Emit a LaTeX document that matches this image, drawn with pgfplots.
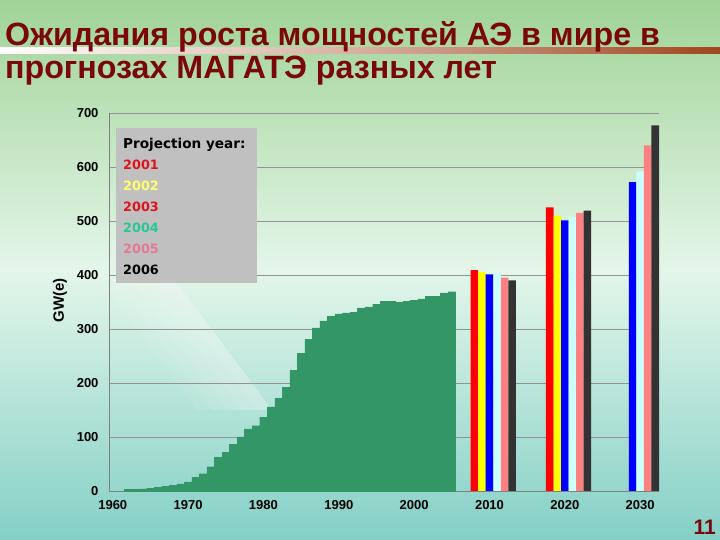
\documentclass[border=0pt]{standalone}
\usepackage{pgfplots}
\pgfplotsset{compat=1.18}
\usepackage{pgfplotstable}
\usepackage{fontspec}
\setmainfont{Liberation Sans}
\newfontfamily\legfont{DejaVu Sans}

\definecolor{titlered}{RGB}{122,8,8}
\definecolor{bargreen}{RGB}{51,150,102}
\definecolor{bgtop}{RGB}{160,211,150}
\definecolor{bgmid}{RGB}{228,246,234}
\definecolor{bgbot}{RGB}{132,208,198}
\definecolor{pyred}{RGB}{255,0,0}
\definecolor{pyyellow}{RGB}{255,255,0}
\definecolor{pyblue}{RGB}{0,0,255}
\definecolor{pycyan}{RGB}{204,255,255}
\definecolor{pypink}{RGB}{255,128,128}
\definecolor{pyblack}{RGB}{51,51,51}
\definecolor{legred}{RGB}{220,20,30}
\definecolor{legyellow}{RGB}{255,255,110}
\definecolor{legteal}{RGB}{40,200,150}
\definecolor{legpink}{RGB}{230,120,150}
\definecolor{leggray}{RGB}{192,192,192}
\definecolor{barbrown}{RGB}{160,70,30}
\definecolor{barmid}{RGB}{215,175,160}

\pgfplotstableread{
year gw
1962 3
1963 3
1964 4
1965 5
1966 7
1967 9
1968 11
1969 13
1970 17
1971 25
1972 32
1973 45
1974 62
1975 72
1976 87
1977 100
1978 115
1979 121
1980 137
1981 156
1982 172
1983 192
1984 224
1985 255
1986 281
1987 302
1988 315
1989 323
1990 328
1991 330
1992 331
1993 339
1994 341
1995 346
1996 351
1997 351
1998 349
1999 351
2000 353
2001 356
2002 360
2003 361
2004 367
2005 369
}\actual

\begin{document}
\begin{tikzpicture}[x=1pt,y=1pt]
\useasboundingbox (0,0) rectangle (720,540);
% background
\shade[top color=bgtop, bottom color=bgbot, middle color=bgmid] (0,0) rectangle (720,540);
\foreach \w in {10,25,40,55,70} {
  \fill[white, opacity=0.08] (170-\w,260) -- (175,260) -- (272,130) -- (267-\w,130) -- cycle;
}
% title underline bar
\shade[left color=white, right color=barbrown, middle color=barmid] (0,486) rectangle (720,492);
% title
\node[anchor=base west, inner sep=0, text=titlered, font=\bfseries\fontsize{32.2}{36}\selectfont] at (5,494) {Ожидания роста мощностей АЭ в мире в};
\node[anchor=base west, inner sep=0, text=titlered, font=\bfseries\fontsize{32.2}{36}\selectfont] at (5,461) {прогнозах МАГАТЭ разных лет};
% page number
\node[anchor=base east, inner sep=0, text=titlered, font=\bfseries\fontsize{21}{24}\selectfont] at (716,5) {11};

\begin{axis}[
  at={(109pt,49pt)}, anchor=south west,
  scale only axis, width=550pt, height=378pt,
  xmin=1959.5, xmax=2032.5, ymin=0, ymax=700,
  axis x line=bottom, axis y line=left,
  axis line style={-, draw=gray, line width=0.8pt},
  xtick={1960,1970,...,2030},
  minor xtick={1959.5,1960.5,...,2032.5},
  major tick length=0pt, minor tick length=4pt,
  tick align=outside,
  xtick style={draw=none},
  minor tick style={draw=gray, line width=0.6pt},
  ytick={0,100,...,700},
  ytick style={draw=none},
  ymajorgrids,
  major grid style={draw=gray!85, line width=0.7pt},
  /pgf/number format/assume math mode=true,
  xticklabel={\pgfmathprintnumber[1000 sep={}]{\tick}},
  ticklabel style={font=\bfseries\fontsize{13}{15}\selectfont},
  xticklabel style={yshift=-6pt},
  yticklabel style={xshift=-7pt},
  ylabel={GW(e)},
  ylabel style={at={(axis description cs:-0.089,0.505)}, anchor=center, font=\bfseries\fontsize{15}{17}\selectfont},
  clip=false,
]
\addplot[ybar, bar width=1, bar shift=0pt, fill=bargreen, draw=bargreen, line width=0.3pt] table[x=year,y=gw] {\actual};
\addplot[ybar, bar width=1, bar shift=0pt, fill=pyred, draw=none] coordinates {(2008,409) (2018,525)};
\addplot[ybar, bar width=1, bar shift=0pt, fill=pyyellow, draw=none] coordinates {(2009,406) (2019,510)};
\addplot[ybar, bar width=1, bar shift=0pt, fill=pyblue, draw=none] coordinates {(2010,401) (2020,501) (2029,572)};
\addplot[ybar, bar width=1, bar shift=0pt, fill=pycyan, draw=none] coordinates {(2011,403) (2021,508) (2030,592)};
\addplot[ybar, bar width=1, bar shift=0pt, fill=pypink, draw=none] coordinates {(2012,395) (2022,515) (2031,640)};
\addplot[ybar, bar width=1, bar shift=0pt, fill=pyblack, draw=none] coordinates {(2013,390) (2023,519) (2032,677)};
\end{axis}

% legend box
\fill[leggray] (116,257) rectangle (257,412);
\begin{scope}[every node/.style={anchor=base west, inner sep=0, font=\legfont\bfseries\fontsize{12.8}{15}\selectfont}]
\node[text=black, font=\legfont\bfseries\fontsize{13.6}{16}\selectfont] at (123,391) {Projection year:};
\node[text=legred] at (123,370) {2001};
\node[text=legyellow] at (123,349) {2002};
\node[text=legred] at (123,328) {2003};
\node[text=legteal] at (123,307) {2004};
\node[text=legpink] at (123,286) {2005};
\node[text=black] at (123,265) {2006};
\end{scope}
\end{tikzpicture}
\end{document}
